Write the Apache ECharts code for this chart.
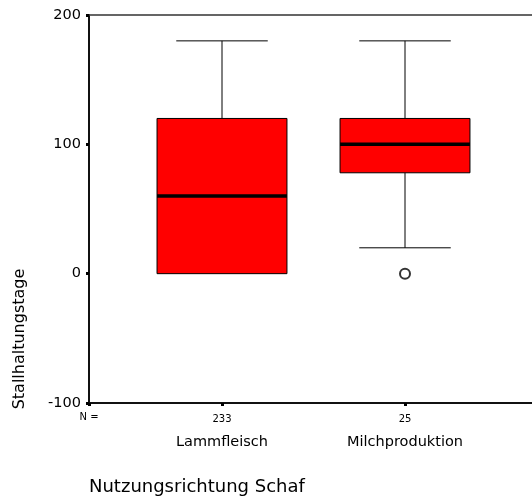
<!DOCTYPE html>
<html>
<head>
<meta charset="utf-8">
<script src="https://cdn.jsdelivr.net/npm/echarts@6/dist/echarts.min.js"></script>
<style>
  html, body { margin: 0; padding: 0; background: #fff; }
  #chart { width: 532px; height: 497px; }
</style>
</head>
<body>
<div id="chart"></div>
<script>
// Stallhaltungstage nach Nutzungsrichtung Schaf (SPSS boxplot)
var categories = ['Lammfleisch', 'Milchproduktion'];
var counts = [233, 25];
var whiskerLow = [0, 20];
var q1 = [0, 78];
var median = [60, 100];
var q3 = [120, 120];
var whiskerHigh = [180, 180];
var outliers = [[1, 0]];
var yTicks = { min: -100, max: 200, interval: 100 };

var FONT = 'DejaVu Sans';

var boxData = categories.map(function (c, i) {
    return [i, whiskerLow[i], q1[i], median[i], q3[i], whiskerHigh[i]];
});

function renderBox(params, api) {
    var x = api.value(0);
    var lo = api.coord([x, api.value(1)]);
    var b1 = api.coord([x, api.value(2)]);
    var md = api.coord([x, api.value(3)]);
    var b3 = api.coord([x, api.value(4)]);
    var hi = api.coord([x, api.value(5)]);
    var band = api.size([1, 0])[0];
    var half = band * 0.355;
    var cap = band * 0.25;
    var cx = lo[0];
    var thin = { stroke: '#000', lineWidth: 1 };
    return {
        type: 'group',
        children: [
            { type: 'line', shape: { x1: cx, y1: hi[1], x2: cx, y2: b3[1] }, style: thin },
            { type: 'line', shape: { x1: cx - cap, y1: hi[1], x2: cx + cap, y2: hi[1] }, style: thin },
            { type: 'line', shape: { x1: cx, y1: lo[1], x2: cx, y2: b1[1] }, style: thin },
            { type: 'line', shape: { x1: cx - cap, y1: lo[1], x2: cx + cap, y2: lo[1] }, style: thin,
              invisible: api.value(1) === api.value(2) },
            { type: 'rect', shape: { x: cx - half, y: b3[1], width: half * 2, height: b1[1] - b3[1] },
              style: { fill: '#ff0000', stroke: '#000', lineWidth: 1 } },
            { type: 'line', shape: { x1: cx - half, y1: md[1], x2: cx + half, y2: md[1] },
              style: { stroke: '#000', lineWidth: 3.5 } }
        ]
    };
}

var chart = echarts.init(document.getElementById('chart'));
chart.setOption({
    animation: false,
    backgroundColor: '#fff',
    textStyle: { fontFamily: FONT, color: '#000' },
    grid: [
        { left: 89, top: 15, right: -60, bottom: 94, outerBoundsMode: 'none' },
        { left: 130.5, top: 15, width: 366, bottom: 94, outerBoundsMode: 'none' }
    ],
    xAxis: [
        {
            gridIndex: 0, type: 'value', min: 0, max: 1, interval: 1,
            axisLine: { show: true, onZero: false, lineStyle: { color: '#111', width: 2 } },
            axisTick: { show: true, length: 3, lineStyle: { color: '#000', width: 3 } },
            axisLabel: {
                margin: 9, fontSize: 10, fontFamily: FONT, color: '#000',
                formatter: function (v) { return v === 0 ? 'N =' : ''; }
            },
            splitLine: { show: false }
        },
        {
            gridIndex: 0, type: 'value', position: 'top', min: 0, max: 1,
            axisLine: { show: true, onZero: false, lineStyle: { color: '#333', width: 1.5 } },
            axisTick: { show: false }, axisLabel: { show: false }, splitLine: { show: false }
        },
        {
            gridIndex: 1, type: 'category', data: categories,
            axisLine: { show: false, onZero: false },
            axisTick: { show: true, alignWithLabel: true, length: 3, lineStyle: { color: '#000', width: 3 } },
            axisLabel: {
                margin: 9, interval: 0,
                formatter: function (v, i) { return '{n|' + counts[i] + '}\n{c|' + v + '}'; },
                rich: {
                    n: { fontSize: 10, lineHeight: 14, fontFamily: FONT, color: '#000' },
                    c: { fontSize: 14.5, lineHeight: 32, fontFamily: FONT, color: '#000' }
                }
            },
            splitLine: { show: false }
        }
    ],
    yAxis: [
        {
            gridIndex: 0, type: 'value', min: yTicks.min, max: yTicks.max, interval: yTicks.interval,
            axisLine: { show: true, onZero: false, lineStyle: { color: '#111', width: 2 } },
            axisTick: { show: true, length: 3, lineStyle: { color: '#000', width: 3 } },
            axisLabel: { margin: 8, fontSize: 14.5, fontFamily: FONT, color: '#000' },
            splitLine: { show: false }
        },
        {
            gridIndex: 1, type: 'value', min: yTicks.min, max: yTicks.max, interval: yTicks.interval,
            show: false
        }
    ],
    graphic: [
        {
            type: 'text', left: 89, top: 478,
            style: { text: 'Nutzungsrichtung Schaf', font: '18px "DejaVu Sans"', fill: '#000' }
        },
        {
            type: 'text', x: 20, y: 339, rotation: Math.PI / 2,
            style: {
                text: 'Stallhaltungstage', font: '16px "DejaVu Sans"', fill: '#000',
                align: 'center', verticalAlign: 'middle'
            }
        }
    ],
    series: [
        {
            type: 'custom', xAxisIndex: 2, yAxisIndex: 1,
            renderItem: renderBox, data: boxData, silent: true
        },
        {
            type: 'scatter', xAxisIndex: 2, yAxisIndex: 1,
            data: outliers, symbol: 'circle', symbolSize: 10,
            itemStyle: { color: '#fff', borderColor: '#000', borderWidth: 2 }, silent: true
        }
    ]
});
</script>
</body>
</html>
